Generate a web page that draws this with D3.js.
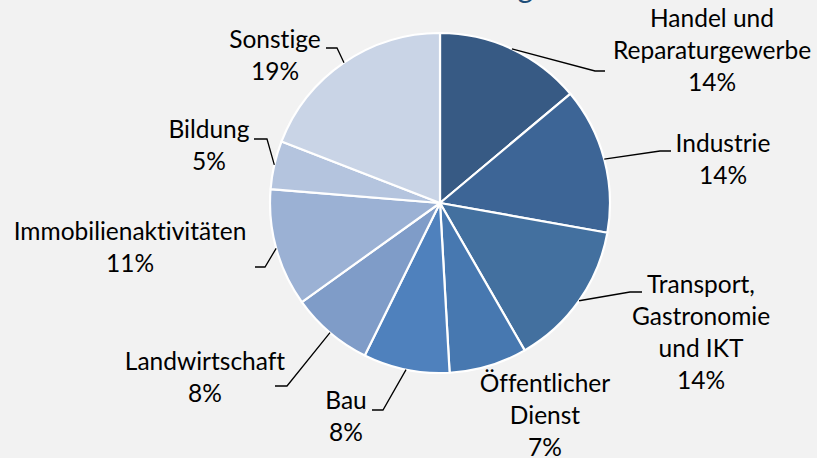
<!DOCTYPE html>
<html>
<head>
<meta charset="utf-8">
<script src="https://cdn.jsdelivr.net/npm/d3@7"></script>
<style>
  body { margin: 0; background: #f2f2f2; }
  svg { display: block; }
  text { font-family: Lato, "Open Sans", sans-serif; font-variant-ligatures: none; }
</style>
</head>
<body>
<svg class="pie_svg"></svg>
<script>
// sectors, clockwise from 12 o'clock
const sectors = [
  "Handel und Reparaturgewerbe", "Industrie", "Transport, Gastronomie und IKT",
  "Öffentlicher Dienst", "Bau", "Landwirtschaft", "Immobilienaktivitäten",
  "Bildung", "Sonstige"
];
const labelLines = [
  ["Handel und", "Reparaturgewerbe"], ["Industrie"], ["Transport,", "Gastronomie", "und IKT"],
  ["Öffentlicher", "Dienst"], ["Bau"], ["Landwirtschaft"], ["Immobilienaktivitäten"],
  ["Bildung"], ["Sonstige"]
];
const shares = [13.9, 13.9, 13.9, 7.4, 8.2, 7.8, 11.2, 4.6, 19.1];
const shareLabels = ["14%", "14%", "14%", "7%", "8%", "8%", "11%", "5%", "19%"];
const colors = [
  "#375a84", "#3d6596", "#43709f", "#4778b0", "#4f81bd",
  "#7f9cc8", "#9bb1d4", "#b4c4de", "#c9d4e6"
];

// label placement (text centre x, first baseline y, leader elbow, leader end x)
const labelPos = [
  { x: 712, y: 27, elbow: [595, 71], end: 605 },
  { x: 723, y: 152, elbow: [660, 151], end: 671 },
  { x: 701, y: 293, elbow: [630, 292], end: 642 },
  { x: 545, y: 392, elbow: null },
  { x: 346, y: 409, elbow: [383, 410], end: 372 },
  { x: 205, y: 370, elbow: [287, 386], end: 275 },
  { x: 130, y: 240, elbow: [265, 267], end: 255 },
  { x: 209, y: 138, elbow: [267, 139], end: 254 },
  { x: 275, y: 48, elbow: [337, 48], end: 326 }
];

const width = 817, height = 458;
const cx = 440, cy = 203, radius = 170;
const fontSize = 24.5, lineHeight = 32;

const svg = d3.select(".pie_svg")
  .attr("width", width)
  .attr("height", height);

svg.append("rect")
  .attr("width", width)
  .attr("height", height)
  .attr("fill", "#f2f2f2");

// title, almost entirely above the visible area (only a descender shows)
svg.append("text")
  .attr("x", 533)
  .attr("y", -2.5)
  .attr("text-anchor", "end")
  .style("font-size", "30px")
  .style("fill", "#1f4e79")
  .text("Verteilung");

const pie = d3.pie().sort(null).value((d) => d)
  .startAngle(0).endAngle(2 * Math.PI);
const arcs = pie(shares);

const arc = d3.arc().innerRadius(0).outerRadius(radius);
const edge = d3.arc().innerRadius(radius).outerRadius(radius);

const g = svg.append("g").attr("transform", `translate(${cx},${cy})`);

g.selectAll("path")
  .data(arcs)
  .join("path")
  .attr("d", arc)
  .attr("fill", (d, i) => colors[i])
  .attr("stroke", "#ffffff")
  .attr("stroke-width", 2.2)
  .attr("stroke-linejoin", "round");

// leader lines
arcs.forEach((d, i) => {
  const p = labelPos[i];
  if (!p.elbow) return;
  const [sx, sy] = edge.centroid(d);
  svg.append("polyline")
    .attr("points", [[cx + sx, cy + sy], p.elbow, [p.end, p.elbow[1]]].map((q) => q.join(",")).join(" "))
    .attr("fill", "none")
    .attr("stroke", "#000")
    .attr("stroke-width", 1.3);
});

// labels
arcs.forEach((d, i) => {
  const p = labelPos[i];
  const lines = labelLines[i].concat([shareLabels[i]]);
  const t = svg.append("text")
    .attr("text-anchor", "middle")
    .style("font-size", fontSize + "px")
    .style("fill", "#000");
  lines.forEach((line, k) => {
    t.append("tspan")
      .attr("x", p.x)
      .attr("y", p.y + k * lineHeight)
      .text(line);
  });
});
</script>
</body>
</html>
